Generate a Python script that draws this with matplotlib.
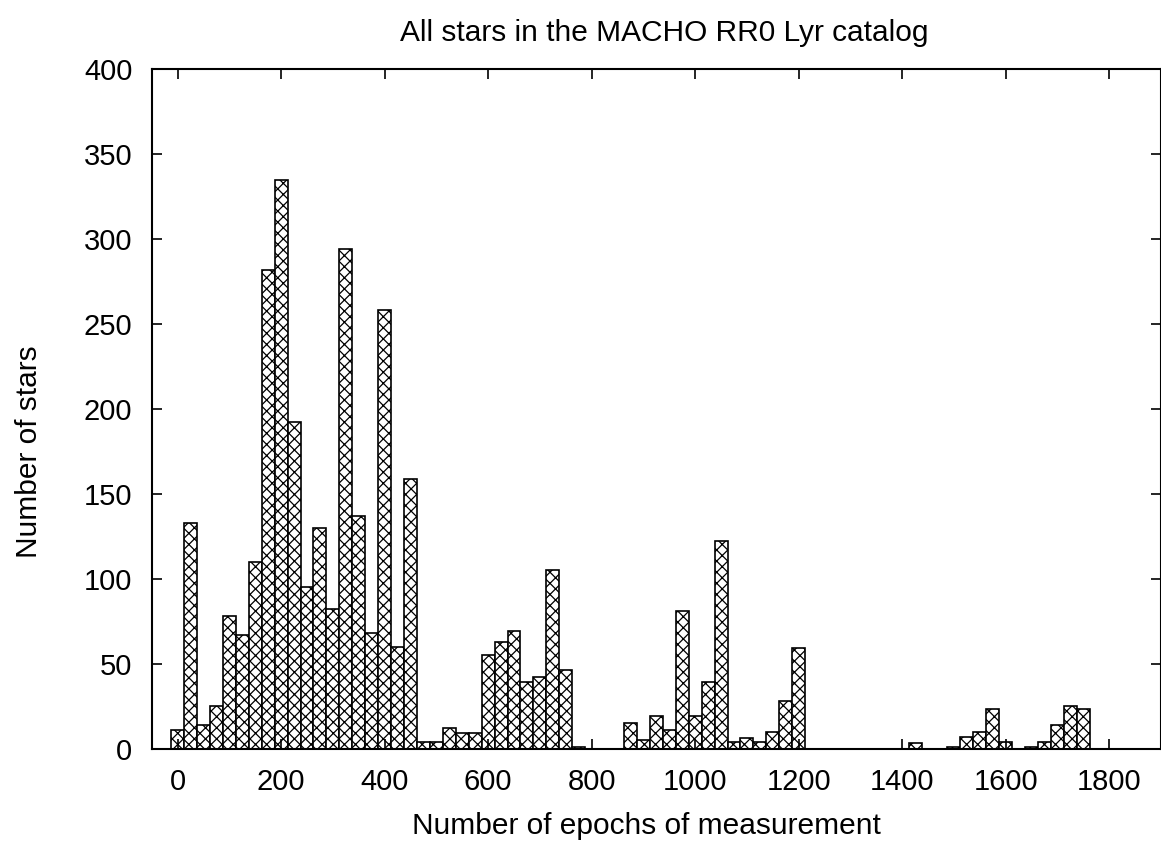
import matplotlib
matplotlib.use("Agg")
import matplotlib.pyplot as plt
import numpy as np

plt.rcParams['font.family'] = ['Liberation Sans', 'DejaVu Sans']
plt.rcParams['hatch.linewidth'] = 0.9

# Histogram bin centres (epochs) and counts
bin_centers = list(range(0, 1775, 25))
counts = [
    11, 133, 14, 25, 78, 67, 110, 282, 335, 192,      # 0..225
    95, 130, 82, 294, 137, 68, 258, 60, 159, 4,       # 250..475
    4, 12, 9, 9, 55, 63, 69, 39, 42, 105,             # 500..725
    46, 1, 0, 0, 0, 15, 5, 19, 11, 81,               # 750..975
    19, 39, 122, 4, 6, 4, 10, 28, 59, 0,              # 1000..1225
    0, 0, 0, 0, 0, 0, 0, 3, 0, 0,                     # 1250..1475
    1, 7, 10, 23, 4, 0, 1, 4, 14, 25,                 # 1500..1725
    23,                                               # 1750
]
bin_width = 25

xticks = [0, 200, 400, 600, 800, 1000, 1200, 1400, 1600, 1800]
yticks = [0, 50, 100, 150, 200, 250, 300, 350, 400]

W, H = 1161, 848
fig = plt.figure(figsize=(W / 100, H / 100), dpi=100)
left, right = 151.7 / W, 1161.0 / W
bottom, top = 1 - 748.5 / H, 1 - 69.3 / H
ax = fig.add_axes([left, bottom, right - left, top - bottom])

ax.bar(bin_centers, counts, width=bin_width, facecolor='white',
       edgecolor='black', linewidth=1.2, hatch='xxx', align='center')

ax.set_xlim(-50, 1900)
ax.set_ylim(0, 400)
ax.set_xticks(xticks)
ax.set_yticks(yticks)
ax.tick_params(direction='in', length=7.2, width=1.2, top=True, right=True,
               labelsize=21, pad=14)
for s in ax.spines.values():
    s.set_linewidth(1.5)

fig.text(646 / W, 1 - 826 / H, 'Number of epochs of measurement',
         ha='center', va='center', fontsize=21.5)
fig.text(29 / W, 1 - 452 / H, 'Number of stars', rotation=90,
         ha='center', va='center', fontsize=21.5)
fig.text(664 / W, 1 - 33 / H, 'All stars in the MACHO RR0 Lyr catalog',
         ha='center', va='center', fontsize=21.5)

fig.savefig('out.png', dpi=100)
